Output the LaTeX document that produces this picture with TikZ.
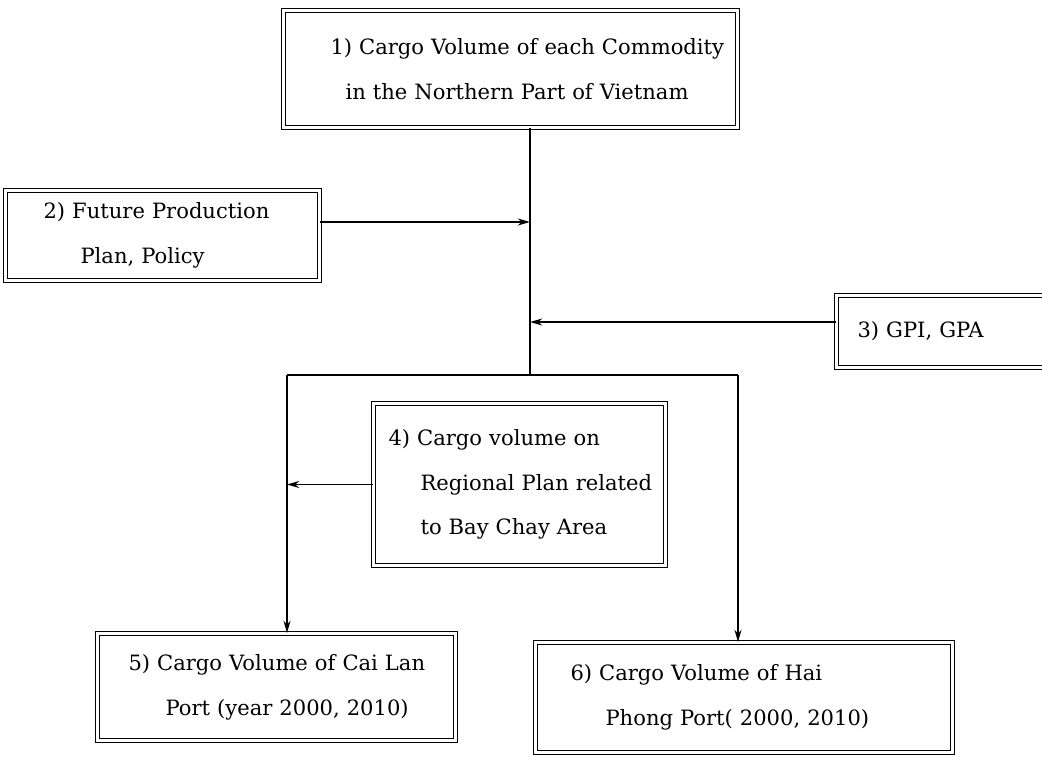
\documentclass[tikz,border=0pt]{standalone}
\usepackage{fontspec}
\setmainfont{DejaVu Serif}
\usetikzlibrary{arrows.meta}

\begin{document}
\begin{tikzpicture}[x=0.02cm, y=-0.02cm, line width=0.8pt,
    box/.style = {draw, double, double distance=1.6pt, line width=0.6pt,
                  anchor=north west, inner xsep=4pt, inner ysep=0pt,
                  align=left, font=\fontsize{12}{25.5}\selectfont},
    arr/.style = {-{Stealth[length=7pt, width=4pt]}}]

    \clip (0,0) rectangle (1042,757);

    % boxes
    \node[box, text width=8.8cm, minimum height=2.34cm] (cargo) at (283,10)
        {\mbox{\hspace*{0.8cm}1) Cargo Volume of each Commodity}\\
         \mbox{\hspace*{1.1cm}in the Northern Part of Vietnam}};
    \node[box, text width=6.0cm, minimum height=1.8cm] (plan) at (5,190)
        {\mbox{\hspace*{0.62cm}2) Future Production}\\
         \mbox{\hspace*{1.36cm}Plan, Policy}};
    \node[box, text width=4.2cm, minimum height=1.44cm] (gpi) at (836,295)
        {\mbox{\hspace*{0.28cm}3) GPI, GPA}};
    \node[box, text width=5.56cm, minimum height=3.24cm] (regional) at (373,403)
        {\mbox{\hspace*{0.16cm}4) Cargo volume on}\\
         \mbox{\hspace*{0.8cm}Regional Plan related}\\
         \mbox{\hspace*{0.8cm}to Bay Chay Area}};
    \node[box, text width=6.88cm, minimum height=2.14cm] (cailan) at (97,633)
        {\mbox{\hspace*{0.48cm}5) Cargo Volume of Cai Lan}\\
         \mbox{\hspace*{1.22cm}Port (year 2000, 2010)}};
    \node[box, text width=8.06cm, minimum height=2.2cm] (haiphong) at (535,642)
        {\mbox{\hspace*{0.56cm}6) Cargo Volume of Hai}\\
         \mbox{\hspace*{1.26cm}Phong Port( 2000, 2010)}};

    % junctions
    \coordinate (j1) at (530,222);
    \coordinate (j2) at (530,322);
    \coordinate (split) at (530,375);
    \coordinate (splitL) at (287,375);
    \coordinate (splitR) at (738,375);

    % connectors
    \draw (cargo.south -| split) -- (split);
    \draw[arr] (plan.east |- j1) -- (j1);
    \draw[arr] (gpi.west |- j2) -- (j2);
    \draw (splitL) -- (splitR);
    \draw[arr] (splitL) -- (cailan.north -| splitL);
    \draw[arr] (splitR) -- (haiphong.north -| splitR);
    \draw[arr] (regional.west) -- (regional.west -| splitL);
\end{tikzpicture}
\end{document}
